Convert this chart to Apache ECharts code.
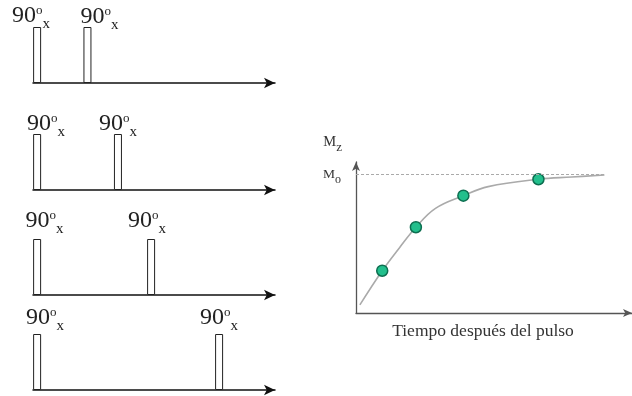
<!DOCTYPE html>
<html>
<head>
<meta charset="utf-8">
<script src="https://cdn.jsdelivr.net/npm/echarts@6/dist/echarts.min.js"></script>
<style>
  html, body { margin: 0; padding: 0; background: #fff; }
  #chart { width: 632px; height: 396px; }
</style>
</head>
<body>
<div id="chart"></div>
<script>
// Pulse sequences: a 90°x pulse at t = 0 and a second one after a growing delay
const pulseDelays = [2.08, 3.34, 4.71, 7.52];
const pulseAngle = '90';
const pulseDegree = 'o';
const pulsePhase = 'x';

// Recovery of Mz after the pulse (traced curve)
const curveTime = [0.14, 0.95, 1.57, 2.17, 2.88, 3.89, 4.79, 6.61, 7.82, 9.0];
const curveMz   = [0.058, 0.304, 0.468, 0.617, 0.753, 0.844, 0.909, 0.962, 0.978, 0.993];

// Magnetisation sampled by each sequence
const sampleTime = [0.95, 2.17, 3.89, 6.61];
const sampleMz   = [0.304, 0.617, 0.844, 0.962];

// Equilibrium magnetisation Mo and where its guide line stops
const equilibriumMz = 1;
const equilibriumEnd = 9.0;

const yTitle = ['M', 'z'];
const equilibriumTitle = ['M', 'o'];
const xTitle = 'Tiempo después del pulso';

// ---- layout ----
const FONT = 'Liberation Serif';
const panelBaselines = [83, 190, 295, 390];
const pulseHeight = 56;
// per-label [dx, dy] nudges for the "90°x" captions
const labelNudge = [
  [[-6, 5], [12, 6]],
  [[9, 6], [0, 6]],
  [[7.5, -2], [-4, -2]],
  [[8, 0], [0, 0]]
];

const pulseRich = {
  a: { fontFamily: FONT, fontSize: 24, lineHeight: 28, verticalAlign: 'top', color: '#222' },
  b: { fontFamily: FONT, fontSize: 13, lineHeight: 20, verticalAlign: 'top', color: '#222' },
  c: { fontFamily: FONT, fontSize: 15, lineHeight: 21, verticalAlign: 'bottom', color: '#222' }
};

function subRich(mainSize, subSize, drop) {
  return {
    m: { fontFamily: FONT, fontSize: mainSize, lineHeight: 14, verticalAlign: 'middle', color: '#333' },
    s: { fontFamily: FONT, fontSize: subSize, lineHeight: 14, verticalAlign: 'middle', color: '#333',
         padding: [drop, 0, 0, 0] }
  };
}

const grids = [], xAxes = [], yAxes = [], series = [];

pulseDelays.forEach((delay, i) => {
  grids.push({ left: 33, right: 357, bottom: 396 - panelBaselines[i], height: pulseHeight });
  xAxes.push({
    type: 'value', gridIndex: i, min: -0.17, max: 9.83,
    axisLine: { show: true, symbol: ['none', 'arrow'], symbolSize: [8, 11],
                lineStyle: { color: '#111', width: 1.5 } },
    axisTick: { show: false }, axisLabel: { show: false }, splitLine: { show: false }
  });
  yAxes.push({ type: 'value', gridIndex: i, min: 0, max: 1, show: false });
  const times = [0, delay];
  series.push({
    type: 'bar', xAxisIndex: i, yAxisIndex: i, barWidth: 8, z: 1,
    itemStyle: { color: '#fff', borderColor: '#222', borderWidth: 1 },
    label: {
      show: true, position: 'top', distance: 0,
      formatter: `{a|${pulseAngle}}{b|${pulseDegree}}{c|${pulsePhase}}`,
      rich: pulseRich
    },
    data: times.map((t, k) => ({
      value: [t, 1],
      label: { offset: labelNudge[i][k] }
    }))
  });
});

// Recovery plot
const R = pulseDelays.length;
grids.push({ left: 356, right: -8, top: 162, bottom: 83 });
xAxes.push({
  type: 'value', gridIndex: R, min: 0, max: 10,
  axisLine: { show: true, symbol: ['none', 'arrow'], symbolSize: [6, 9],
              lineStyle: { color: '#555', width: 1.3 } },
  axisTick: { show: false }, axisLabel: { show: false }, splitLine: { show: false },
  name: xTitle, nameLocation: 'middle', nameGap: 10,
  nameTextStyle: { fontFamily: FONT, fontSize: 17.5, color: '#333', padding: [0, 22, 0, 0],
                   verticalAlign: 'top', lineHeight: 17 }
});
yAxes.push({
  type: 'value', gridIndex: R, min: 0, max: 1.086,
  axisLine: { show: true, symbol: ['none', 'arrow'], symbolSize: [6, 9],
              lineStyle: { color: '#555', width: 1.3 } },
  axisTick: { show: false }, axisLabel: { show: false }, splitLine: { show: false },
  name: `{m|${yTitle[0]}}{s|${yTitle[1]}}`, nameLocation: 'end', nameGap: 19.5,
  nameTextStyle: { align: 'right', verticalAlign: 'middle', padding: [0, 14, 0, 0],
                   rich: subRich(14.5, 13, 9.4) }
});

series.push({
  type: 'line', xAxisIndex: R, yAxisIndex: R, smooth: 0.4, showSymbol: false, z: 2,
  lineStyle: { color: '#aaa', width: 1.6 },
  data: curveTime.map((t, k) => [t, curveMz[k]]),
  markLine: {
    silent: true, symbol: 'none',
    lineStyle: { type: [3, 2], color: '#aaa', width: 1 },
    label: {
      show: true, position: 'start', distance: 15,
      formatter: `{m|${equilibriumTitle[0]}}{s|${equilibriumTitle[1]}}`,
      rich: subRich(13.5, 12, 12.6)
    },
    data: [[{ coord: [0, equilibriumMz] }, { coord: [equilibriumEnd, equilibriumMz] }]]
  }
});
series.push({
  type: 'scatter', xAxisIndex: R, yAxisIndex: R, symbolSize: 11, z: 3,
  itemStyle: { color: '#22bf8c', borderColor: '#0d6e50', borderWidth: 1.5, opacity: 1 },
  data: sampleTime.map((t, k) => [t, sampleMz[k]])
});

const chart = echarts.init(document.getElementById('chart'), null, { renderer: 'canvas' });
chart.setOption({
  animation: false,
  backgroundColor: '#fff',
  textStyle: { fontFamily: FONT },
  grid: grids,
  xAxis: xAxes,
  yAxis: yAxes,
  series: series
});
</script>
</body>
</html>
